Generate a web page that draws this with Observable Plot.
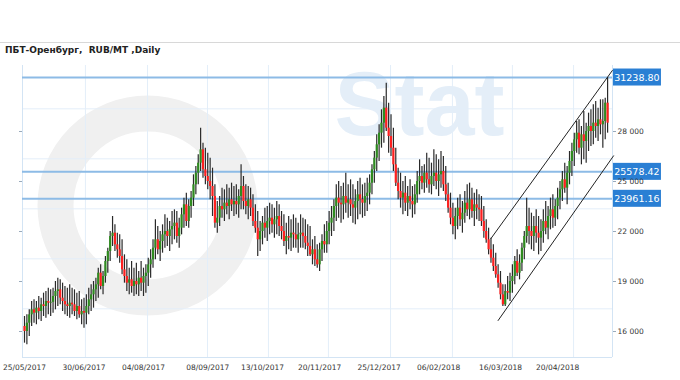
<!DOCTYPE html>
<html>
<head>
<meta charset="utf-8">
<script src="https://cdn.jsdelivr.net/npm/d3@7"></script>
<script src="https://cdn.jsdelivr.net/npm/@observablehq/plot@0.6"></script>
<style>
  html, body { margin: 0; padding: 0; background: #fff; }
  #wrap { position: relative; width: 680px; height: 380px; overflow: hidden; }
  #topline { position: absolute; left: 0; top: 42px; width: 680px; height: 1px; background: #d8d8d8; }
  #title { position: absolute; left: 5px; top: 45px; font: bold 9px "DejaVu Sans", Verdana, sans-serif; color: #222; white-space: pre; }
  #chart { position: absolute; left: 0; top: 0; }
</style>
</head>
<body>
<div id="wrap">
  <div id="chart"></div>
  <div id="topline"></div>
  <div id="title">ПБТ-Оренбург,  RUB/MT ,Daily</div>
</div>
<script>
// OHLC per trading day (index 0 = 25/05/2017)
const open = [
16300,16000,16500,17000,17300,17100,17400,17200,17600,17500,
17800,17700,17750,18100,18400,18500,18000,17800,17600,17500,
17700,17600,17200,17500,17000,17200,17100,17500,17900,18200,
18500,18800,19500,18700,19300,20200,20800,21700,21900,21200,
20900,20500,19700,19300,18900,19100,18700,19000,18800,19200,
18900,19300,19500,20000,20300,21000,21500,20900,21400,21800,
22000,21700,22100,22300,22500,21700,22200,23000,23600,22600,
23500,24000,24800,25500,26100,26900,25700,25300,25000,24700,
24100,22500,22800,23500,23300,23700,23500,23900,23600,23800,
23600,24100,24700,23800,23500,23900,23400,22600,22200,21500,
22000,22500,22200,22600,22800,22400,22700,22900,22300,22000,
21400,21700,21600,21900,21800,21500,21800,21900,21700,21300,
21100,20600,20900,20300,20000,20900,21400,21200,22000,22500,
22800,23500,24000,23700,23600,24100,23700,23900,23600,23400,
23800,24200,23900,23700,24100,24300,24900,25700,26400,27200,
27900,28500,29400,28200,27700,27000,26000,24900,24400,24000,
24300,23700,24100,23800,23600,24200,25000,25300,24900,25500,
25100,24800,25300,25500,25000,25400,25600,24800,24200,23400,
22800,22300,22900,23400,22700,23100,23700,23300,23900,23200,
23600,23400,23300,22600,22000,21500,20900,20400,19900,19400,
18900,18200,17600,18400,18300,19000,19300,20200,19500,20100,
21000,21700,22300,22000,21700,22300,21900,21600,22000,22600,
22200,22900,23300,22800,23500,24000,24500,25100,24600,25500,
26200,26800,27500,27900,27000,27800,27400,28000,28300,28000,
28500,28300,28700,28400,28600,29700
];
const high = [
16900,17000,17300,17800,17900,17800,18100,18000,18300,18400,
18600,18500,18600,19000,19200,19100,18900,18700,18600,18800,
18600,18500,18300,18400,17900,18000,18200,18600,18800,19000,
19200,19800,20000,19600,20500,21000,22000,22900,22400,21900,
21800,21500,20600,20300,19800,20200,19800,20100,19600,20200,
19800,20000,20400,20900,21500,22700,22300,22000,22400,23000,
22800,22600,23200,23300,23200,22800,23400,24000,24300,23900,
24400,25400,25900,26600,28200,27300,27000,26700,26400,25800,
24800,23800,24100,24600,24500,24800,24600,24900,24700,24800,
24500,26000,25300,24800,24700,24600,24200,23600,23200,22600,
22900,23400,23500,23700,23600,23400,23800,23600,23200,23000,
22500,22900,22700,23000,22800,22500,23000,22800,22700,22400,
22300,21500,21700,21200,21300,21800,22400,22600,23200,23500,
23900,24800,25000,24700,24900,25500,24800,25100,24800,24500,
25000,25200,24800,24900,25200,25400,26000,26800,27800,28400,
29300,30100,30900,29700,29000,28200,27000,25800,25500,25000,
25300,24700,25100,24700,24800,25600,26300,25900,26000,26700,
26400,26100,26900,26600,26300,26800,26500,25900,24900,24300,
23700,23400,24000,24200,23800,24400,24800,24900,24600,24300,
24500,24200,24100,23500,22700,22200,21600,21200,20700,20000,
19600,18800,18800,19300,19500,20000,20500,20900,20600,21300,
22000,24000,23400,23100,22900,23300,22900,22700,23300,23800,
23500,24000,24200,23900,24600,25000,25600,26100,25900,26800,
27300,27900,28600,28700,28300,29200,28500,29100,29300,29600,
29800,29400,29900,29900,30000,31238.8
];
const low = [
15300,15200,15700,16300,16500,16400,16700,16600,16900,16800,
17000,16900,17100,17300,17500,17600,17200,17000,16900,16800,
17000,16900,16700,16800,16400,16200,16400,17000,17200,17400,
17800,18000,18500,18200,18900,19500,20200,21100,20800,20400,
20100,19400,18900,18400,18200,18300,18100,18200,18100,18400,
18100,18300,18700,19200,19800,20300,20600,20200,20700,21000,
21100,20800,21200,21500,21300,21000,21800,22200,22300,22200,
22800,23500,24200,24800,25600,25200,24800,24500,23900,22900,
22200,21900,22300,22800,22600,23000,22700,23200,22900,23000,
22800,23300,23300,23000,22700,22900,22300,21900,20500,20800,
21200,21600,21400,21800,21900,21600,21800,21700,21500,21100,
20600,20900,20800,21000,21000,20700,21000,21000,20900,20500,
20500,20000,19900,19800,19600,20200,20700,20700,21200,21700,
22000,22600,22800,22500,22700,23100,22800,22900,22500,22400,
22700,23000,22800,22900,23200,23600,24200,24900,25600,26200,
27000,27300,28000,26700,26500,25600,24700,23900,23400,23000,
23200,22900,23300,22800,23000,23700,24200,24500,24300,24600,
24300,24200,24700,24500,24100,24600,24400,23800,23100,22400,
21800,21500,22100,22300,21900,22500,22900,22700,22800,22300,
22700,22600,22300,21600,21300,20600,20100,19600,19200,18600,
17900,17500,17500,17900,17800,18300,18800,19300,19100,19600,
20300,21300,21200,20900,20800,21300,20600,20800,21300,21800,
21500,22100,22200,22300,22700,23300,23800,24300,23600,24800,
25300,25900,26700,26600,26000,26300,26100,26800,27100,27200,
27600,27400,27800,27000,27500,27900
];
const close = [
16000,16500,17000,17300,17100,17400,17200,17600,17500,17800,
17700,17750,18100,18400,18500,18000,17800,17600,17500,17700,
17600,17200,17500,17000,17200,17100,17500,17900,18200,18500,
18800,19500,18700,19300,20200,20800,21700,21900,21200,20900,
20500,19700,19300,18900,19100,18700,19000,18800,19200,18900,
19300,19500,20000,20300,21000,21500,20900,21400,21800,22000,
21700,22100,22300,22500,21700,22200,23000,23600,22600,23500,
24000,24800,25500,26100,26900,25700,25300,25000,24700,24100,
22500,22800,23500,23300,23700,23500,23900,23600,23800,23600,
24100,24700,23800,23500,23900,23400,22600,22200,21500,22000,
22500,22200,22600,22800,22400,22700,22900,22300,22000,21400,
21700,21600,21900,21800,21500,21800,21900,21700,21300,21100,
20600,20900,20300,20000,20900,21400,21200,22000,22500,22800,
23500,24000,23700,23600,24100,23700,23900,23600,23400,23800,
24200,23900,23700,24100,24300,24900,25700,26400,27200,27900,
28500,29400,28200,27700,27000,26000,24900,24400,24000,24300,
23700,24100,23800,23600,24200,25000,25300,24900,25500,25100,
24800,25300,25500,25000,25400,25600,24800,24200,23400,22800,
22300,22900,23400,22700,23100,23700,23300,23900,23200,23600,
23400,23300,22600,22000,21500,20900,20400,19900,19400,18900,
18200,17600,18400,18300,19000,19300,20200,19500,20100,21000,
21700,22300,22000,21700,22300,21900,21600,22000,22600,22200,
22900,23300,22800,23500,24000,24500,25100,24600,25500,26200,
26800,27500,27900,27000,27800,27400,28000,28300,28000,28500,
28300,28700,28400,28600,29700,28500
];

// Horizontal levels with labels
const levels = [31238.80, 25578.42, 23961.16];

// Trend channel (start / end index and price)
const channelUpperIdx = [196, 247];
const channelUpperVal = [21580, 31660];
const channelLowerIdx = [199, 247.5];
const channelLowerVal = [16660, 26540];

// Axis ticks
const dateIdx = [0, 25, 50, 77, 100, 124, 149, 174, 200, 224];
const dateLabels = ["25/05/2017","30/06/2017","04/08/2017","08/09/2017","13/10/2017","20/11/2017","25/12/2017","06/02/2018","16/03/2018","20/04/2018"];
const yTicks = [16000, 19000, 22000, 25000, 28000];
const gridX = [25.6, 51.7, 76.9, 102.5, 127.7, 153.8, 179.8, 205.0, 230.7];
const gridY = [17360, 20360, 23360, 26360, 29360];

const data = open.map((o, i) => ({i, o, h: high[i], l: low[i], c: close[i]}));
const up = data.filter(d => d.c >= d.o);
const down = data.filter(d => d.c < d.o);

const xDomain = [-0.84, 247.06];
const yDomain = [14440, 31960];
const unitsPerPx = (xDomain[1] - xDomain[0]) / 590;

const upper = channelUpperIdx.map((x, k) => ({x, y: channelUpperVal[k]}));
const lower = channelLowerIdx.map((x, k) => ({x, y: channelLowerVal[k]}));

const fmt = d => d3.format(",")(d).replace(/,/g, " ");
const font = "DejaVu Sans, Verdana, sans-serif";

const chart = Plot.plot({
  width: 680,
  height: 380,
  marginTop: 65,
  marginBottom: 23,
  marginLeft: 22,
  marginRight: 68,
  style: {fontFamily: font, background: "transparent"},
  x: {type: "linear", domain: xDomain, axis: null},
  y: {type: "linear", domain: yDomain, axis: null},
  marks: [
    // faint watermark (logo)
    Plot.dot([0], {frameAnchor: "top-left", dx: 125, dy: 140, r: 92, stroke: "#f0f0f0", strokeWidth: 36, fill: "none"}),
    Plot.text(["Stat"], {frameAnchor: "top-left", textAnchor: "start", lineAnchor: "top", dx: 312, dy: 6, fontSize: 90, fontWeight: "bold", fill: "#e4eef8", fontFamily: "Liberation Sans"}),
    Plot.ruleY(gridY, {stroke: "#e3eef9", strokeWidth: 1}),
    Plot.ruleX(gridX, {stroke: "#e3eef9", strokeWidth: 1}),
    Plot.ruleX([xDomain[0], xDomain[1]], {stroke: "#d3e4f4", strokeWidth: 1}),
    Plot.ruleY([yDomain[0]], {stroke: "#d3e4f4", strokeWidth: 1}),
    Plot.ruleY(levels, {stroke: "#8dbbe6", strokeWidth: 2}),
    Plot.ruleX(data, {x: "i", y1: "l", y2: "h", stroke: "#2a2a2a", strokeWidth: 1.2}),
    Plot.ruleX(up, {x: "i", y1: "o", y2: "c", stroke: "#2e8b1f", strokeWidth: 2.2}),
    Plot.ruleX(down, {x: "i", y1: "o", y2: "c", stroke: "#ff1f1f", strokeWidth: 2.2}),
    Plot.line(upper, {x: "x", y: "y", stroke: "#222", strokeWidth: 1}),
    Plot.line(lower, {x: "x", y: "y", stroke: "#222", strokeWidth: 1}),
    Plot.rect(levels, {x1: xDomain[1] + 0.4, x2: xDomain[1] + 48 * unitsPerPx + 0.4, y1: d => d, y2: d => d, insetTop: -8.5, insetBottom: -8.5, fill: "#2a7fd4"}),
    Plot.text(levels, {x: xDomain[1] + 24.4 * unitsPerPx, y: d => d, text: d => d.toFixed(2), fill: "white", fontSize: 9.5, fontFamily: font}),
    Plot.axisY(yTicks, {anchor: "right", tickSize: 3, tickPadding: 2, tickFormat: fmt, fontSize: 7.5, stroke: "#9ab", color: "#333"}),
    Plot.axisY(yTicks, {anchor: "left", tickSize: 3, tickFormat: () => "", stroke: "#9ab"}),
    Plot.axisX(dateIdx, {anchor: "bottom", tickSize: 0, tickPadding: 7, tickFormat: d => dateLabels[dateIdx.indexOf(d)], fontSize: 7.5, color: "#333"})
  ]
});
document.getElementById("chart").appendChild(chart);
</script>
</body>
</html>
